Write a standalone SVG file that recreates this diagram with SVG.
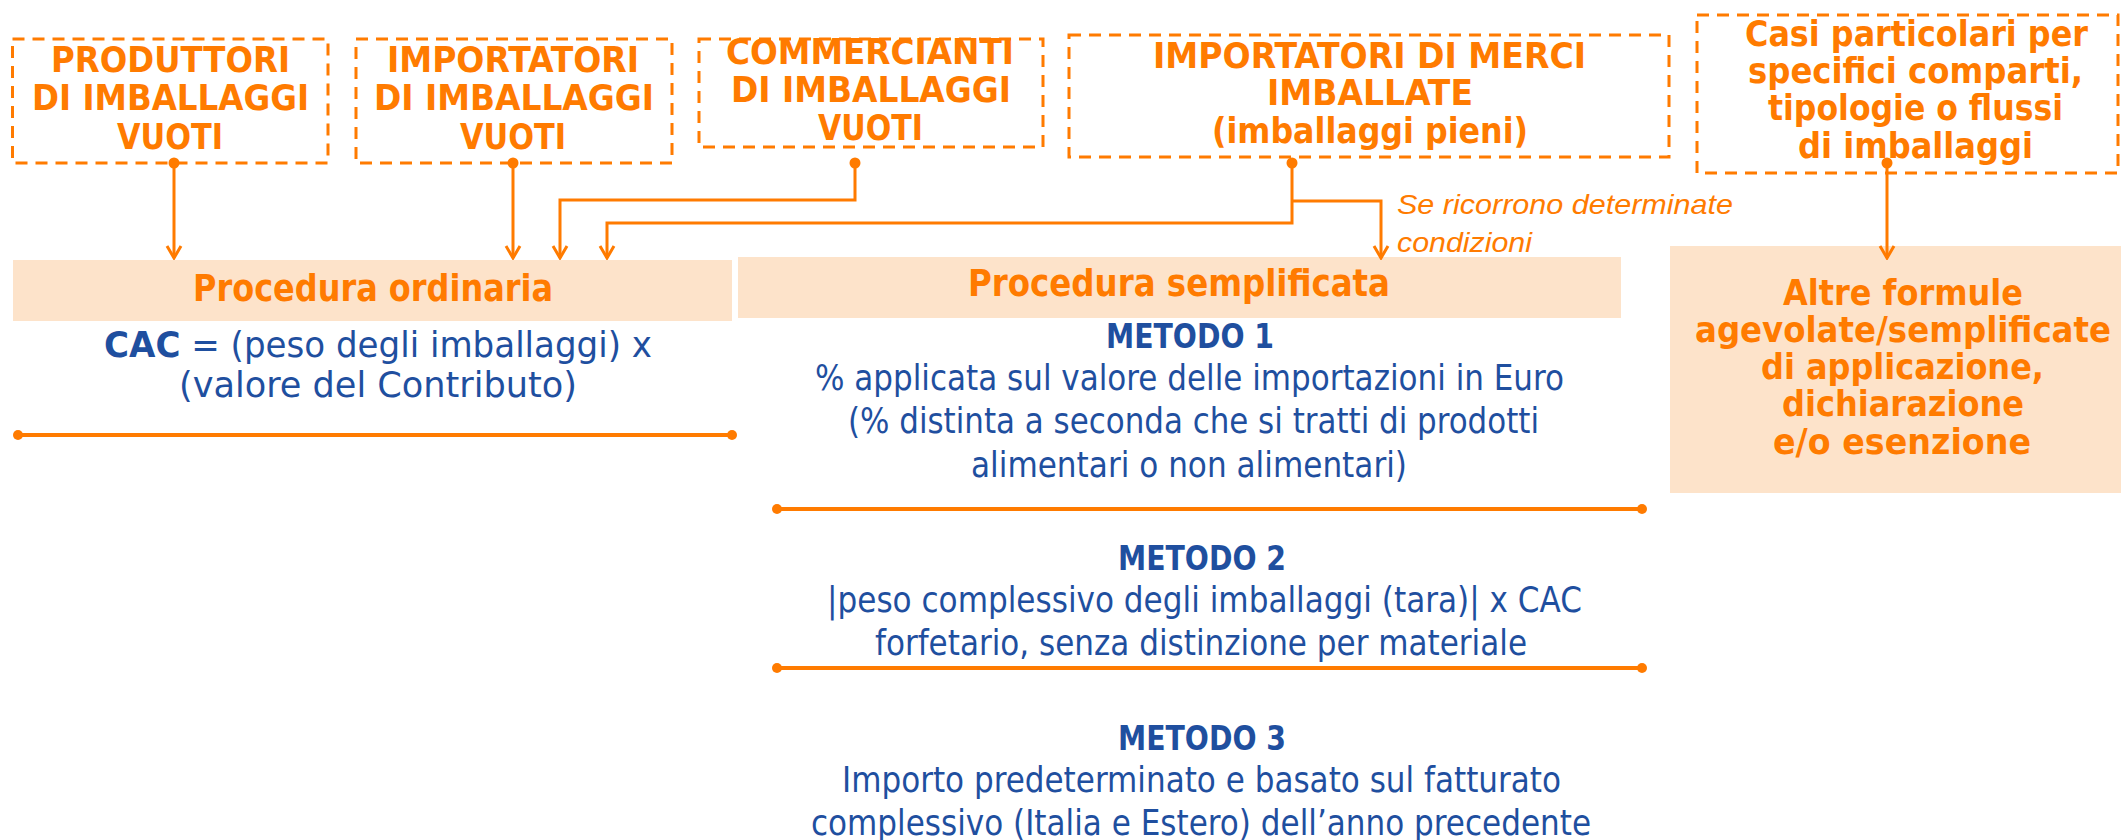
<svg xmlns="http://www.w3.org/2000/svg" width="2121" height="840" viewBox="0 0 2121 840">
<style>
.bg{fill:#ffffff}
.dbox{fill:none;stroke:#FF7B00;stroke-width:3;stroke-dasharray:12 8}
.fill{fill:#FDE3CA}
.ot{fill:#FF7B00;font-family:"Liberation Sans Narrow","DejaVu Sans Condensed","Liberation Sans",sans-serif;font-stretch:condensed;font-weight:bold;font-size:36px}
.ht{fill:#FF7B00;font-family:"Liberation Sans Narrow","DejaVu Sans Condensed","Liberation Sans",sans-serif;font-stretch:condensed;font-weight:bold;font-size:38px}
.bt{fill:#1F4F9F;font-family:"Liberation Sans Narrow","DejaVu Sans Condensed","Liberation Sans",sans-serif;font-stretch:condensed;font-size:35px}
.mt{fill:#1F4F9F;font-family:"Liberation Sans Narrow","DejaVu Sans Condensed","Liberation Sans",sans-serif;font-stretch:condensed;font-size:34px;font-weight:bold}
.it{fill:#FF7B00;font-family:"Liberation Sans",Arial,sans-serif;font-style:italic;font-size:28px}
.conn{fill:none;stroke:#FF7B00;stroke-width:3}
.sep{stroke:#FF7B00;stroke-width:4}
.dot{fill:#FF7B00}
</style>
<defs>
<marker id="arr" markerUnits="userSpaceOnUse" markerWidth="20" markerHeight="20" viewBox="0 0 20 20" refX="18" refY="10" orient="auto">
<path d="M6,3 L18,10 L6,17" fill="none" stroke="#FF7B00" stroke-width="3"/>
</marker>
</defs>
<rect class="bg" x="0" y="0" width="2121" height="840"/>

<g id="produttori">
<rect class="dbox" x="12.5" y="39" width="315.5" height="124"/>
<text class="ot" x="51" y="72" textLength="239" lengthAdjust="spacingAndGlyphs">PRODUTTORI</text>
<text class="ot" x="32" y="110" textLength="277" lengthAdjust="spacingAndGlyphs">DI IMBALLAGGI</text>
<text class="ot" x="117" y="149" textLength="106" lengthAdjust="spacingAndGlyphs">VUOTI</text>
</g>

<g id="importatori">
<rect class="dbox" x="356" y="39" width="316" height="124"/>
<text class="ot" x="387" y="72" textLength="252" lengthAdjust="spacingAndGlyphs">IMPORTATORI</text>
<text class="ot" x="374" y="110" textLength="280" lengthAdjust="spacingAndGlyphs">DI IMBALLAGGI</text>
<text class="ot" x="460" y="149" textLength="106" lengthAdjust="spacingAndGlyphs">VUOTI</text>
</g>

<g id="commercianti">
<rect class="dbox" x="699" y="39" width="344" height="108"/>
<text class="ot" x="726" y="64" textLength="288" lengthAdjust="spacingAndGlyphs">COMMERCIANTI</text>
<text class="ot" x="731" y="102" textLength="280" lengthAdjust="spacingAndGlyphs">DI IMBALLAGGI</text>
<text class="ot" x="818" y="140" textLength="105" lengthAdjust="spacingAndGlyphs">VUOTI</text>
</g>

<g id="importatori-merci">
<rect class="dbox" x="1069" y="35" width="600" height="122"/>
<text class="ot" x="1153" y="68" textLength="433" lengthAdjust="spacingAndGlyphs">IMPORTATORI DI MERCI</text>
<text class="ot" x="1267" y="105" textLength="206" lengthAdjust="spacingAndGlyphs">IMBALLATE</text>
<text class="ot" x="1212" y="143" textLength="316" lengthAdjust="spacingAndGlyphs">(imballaggi pieni)</text>
</g>

<g id="casi-particolari">
<rect class="dbox" x="1697" y="15" width="421" height="158"/>
<text class="ot" x="1745" y="46" textLength="343" lengthAdjust="spacingAndGlyphs">Casi particolari per</text>
<text class="ot" x="1748" y="83" textLength="335" lengthAdjust="spacingAndGlyphs">specifici comparti,</text>
<text class="ot" x="1768" y="120" textLength="295" lengthAdjust="spacingAndGlyphs">tipologie o flussi</text>
<text class="ot" x="1798" y="158" textLength="235" lengthAdjust="spacingAndGlyphs">di imballaggi</text>
</g>

<g id="procedura-ordinaria">
<rect class="fill" x="13" y="260" width="719" height="61"/>
<text class="ht" x="193" y="301" textLength="360" lengthAdjust="spacingAndGlyphs">Procedura ordinaria</text>
<text class="bt" x="104" y="357" textLength="548" lengthAdjust="spacingAndGlyphs"><tspan font-weight="bold">CAC</tspan> = (peso degli imballaggi) x</text>
<text class="bt" x="179" y="397" textLength="398" lengthAdjust="spacingAndGlyphs">(valore del Contributo)</text>
<line class="sep" x1="18" y1="435" x2="732" y2="435"/>
<circle class="dot" cx="18" cy="435" r="5"/>
<circle class="dot" cx="732" cy="435" r="5"/>
</g>

<g id="procedura-semplificata">
<rect class="fill" x="738" y="257" width="883" height="61"/>
<text class="ht" x="968" y="296" textLength="422" lengthAdjust="spacingAndGlyphs">Procedura semplificata</text>
</g>

<g id="metodo1">
<text class="mt" x="1106" y="348" textLength="168" lengthAdjust="spacingAndGlyphs">METODO 1</text>
<text class="bt" x="815" y="390" textLength="749" lengthAdjust="spacingAndGlyphs">% applicata sul valore delle importazioni in Euro</text>
<text class="bt" x="848" y="433" textLength="691" lengthAdjust="spacingAndGlyphs">(% distinta a seconda che si tratti di prodotti</text>
<text class="bt" x="971" y="477" textLength="436" lengthAdjust="spacingAndGlyphs">alimentari o non alimentari)</text>
<line class="sep" x1="777" y1="509" x2="1642" y2="509"/>
<circle class="dot" cx="777" cy="509" r="5"/>
<circle class="dot" cx="1642" cy="509" r="5"/>
</g>

<g id="metodo2">
<text class="mt" x="1118" y="570" textLength="168" lengthAdjust="spacingAndGlyphs">METODO 2</text>
<text class="bt" x="827" y="612" textLength="755" lengthAdjust="spacingAndGlyphs">|peso complessivo degli imballaggi (tara)| x CAC</text>
<text class="bt" x="875" y="655" textLength="652" lengthAdjust="spacingAndGlyphs">forfetario, senza distinzione per materiale</text>
<line class="sep" x1="777" y1="668" x2="1642" y2="668"/>
<circle class="dot" cx="777" cy="668" r="5"/>
<circle class="dot" cx="1642" cy="668" r="5"/>
</g>

<g id="metodo3">
<text class="mt" x="1118" y="750" textLength="168" lengthAdjust="spacingAndGlyphs">METODO 3</text>
<text class="bt" x="842" y="792" textLength="719" lengthAdjust="spacingAndGlyphs">Importo predeterminato e basato sul fatturato</text>
<text class="bt" x="811" y="835" textLength="780" lengthAdjust="spacingAndGlyphs">complessivo (Italia e Estero) dell’anno precedente</text>
</g>

<g id="altre-formule">
<rect class="fill" x="1670" y="246" width="451" height="247"/>
<text class="ot" x="1783" y="305" textLength="240" lengthAdjust="spacingAndGlyphs">Altre formule</text>
<text class="ot" x="1695" y="342" textLength="416" lengthAdjust="spacingAndGlyphs">agevolate/semplificate</text>
<text class="ot" x="1761" y="379" textLength="283" lengthAdjust="spacingAndGlyphs">di applicazione,</text>
<text class="ot" x="1782" y="416" textLength="242" lengthAdjust="spacingAndGlyphs">dichiarazione</text>
<text class="ot" x="1773" y="454" textLength="258" lengthAdjust="spacingAndGlyphs">e/o esenzione</text>
</g>

<g id="connectors">
<path class="conn" d="M174,163 V258" marker-end="url(#arr)"/>
<path class="conn" d="M513,163 V258" marker-end="url(#arr)"/>
<path class="conn" d="M855,163 V200 H560 V258" marker-end="url(#arr)"/>
<path class="conn" d="M1292,163 V223 H607 V258" marker-end="url(#arr)"/>
<path class="conn" d="M1292,201 H1381 V258" marker-end="url(#arr)"/>
<path class="conn" d="M1887,163 V258" marker-end="url(#arr)"/>
<circle class="dot" cx="174" cy="163" r="5.5"/>
<circle class="dot" cx="513" cy="163" r="5.5"/>
<circle class="dot" cx="855" cy="163" r="5.5"/>
<circle class="dot" cx="1292" cy="163" r="5.5"/>
<circle class="dot" cx="1887" cy="163" r="5.5"/>
<text class="it" x="1397" y="214" textLength="336" lengthAdjust="spacingAndGlyphs">Se ricorrono determinate</text>
<text class="it" x="1397" y="252" textLength="135" lengthAdjust="spacingAndGlyphs">condizioni</text>
</g>
</svg>
